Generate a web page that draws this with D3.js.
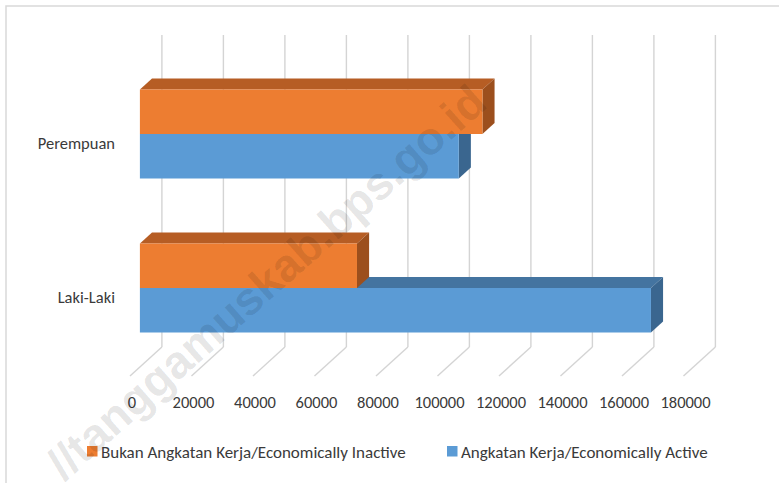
<!DOCTYPE html>
<html>
<head>
<meta charset="utf-8">
<script src="https://cdn.jsdelivr.net/npm/d3@7"></script>
<style>
  body { margin: 0; background: #fff; }
  text { font-family: Carlito, Calibri, Lato, sans-serif; fill: #3a3a3a; }
</style>
</head>
<body>
<div id="chart"></div>
<script>
// data
const categories = ["Perempuan", "Laki-Laki"];
const seriesNames = ["Bukan Angkatan Kerja/Economically Inactive", "Angkatan Kerja/Economically Active"];
const inactive = [111400, 70600];
const active = [103700, 166200];
const tickValues = [0, 20000, 40000, 60000, 80000, 100000, 120000, 140000, 160000, 180000];

const colors = {
    inactive: { front: "#ED7D31", top: "#B65D24", side: "#9C4F1D" },
    active: { front: "#5B9BD5", top: "#4474A0", side: "#3A668F" },
};

const width = 779, height = 483;

const svg = d3.select("#chart").append("svg")
    .attr("width", width)
    .attr("height", height);

// outer chart border (only left/top visible in the crop)
svg.append("rect")
    .attr("x", 6).attr("y", 6)
    .attr("width", 820).attr("height", 520)
    .attr("fill", "none")
    .attr("stroke", "#d9d9d9")
    .attr("stroke-width", 1.5);

// oblique 3d: z goes back, up-right
const originX = 130;
const slant = 1.1;
const x = d3.scaleLinear().domain([0, 180000]).range([0, 553.5]);
const yCat = d3.scalePoint().domain(categories).range([143, 297]);
const ySeries = d3.scaleBand().domain(["inactive", "active"]).range([-44.5, 44.5]);

const floorY = 376, wallTop = 64;
const zWall = 29, zFront = 9, zBack = 20;

const proj = (v, y, z) => [originX + x(v) + z * slant, y - z];
const poly = (pts) => "M" + pts.map((p) => p.join(",")).join("L") + "Z";

const grid = svg.append("g");
// back wall gridlines
grid.selectAll(".wall")
    .data(tickValues)
    .enter().append("line")
    .attr("x1", (d) => proj(d, wallTop, zWall)[0])
    .attr("y1", (d) => proj(d, wallTop, zWall)[1])
    .attr("x2", (d) => proj(d, floorY, zWall)[0])
    .attr("y2", (d) => proj(d, floorY, zWall)[1])
    .attr("stroke", "#d4d4d4")
    .attr("stroke-width", 1.4);
// floor lines
grid.selectAll(".floor")
    .data(tickValues)
    .enter().append("line")
    .attr("x1", (d) => proj(d, floorY, zWall)[0])
    .attr("y1", (d) => proj(d, floorY, zWall)[1])
    .attr("x2", (d) => proj(d, floorY, 0)[0])
    .attr("y2", (d) => proj(d, floorY, 0)[1])
    .attr("stroke", "#d4d4d4")
    .attr("stroke-width", 1.4);

// tick labels
svg.append("g").selectAll("text")
    .data(tickValues)
    .enter().append("text")
    .attr("x", (d) => proj(d, floorY, 0)[0] + 2)
    .attr("y", 408)
    .attr("text-anchor", "middle")
    .style("font-size", "16.5px")
    .text((d) => d);

// category labels
svg.append("g").selectAll("text")
    .data(categories)
    .enter().append("text")
    .attr("x", 115)
    .attr("y", (d) => yCat(d) + 6)
    .attr("text-anchor", "end")
    .style("font-size", "16.5px")
    .text((d) => d);

// bars: draw lower (active) first so the upper bar covers its top face
const bars = [];
categories.forEach((c, i) => {
    bars.push({ cat: c, key: "active", value: active[i] });
    bars.push({ cat: c, key: "inactive", value: inactive[i] });
});

const barG = svg.append("g");
bars.forEach((b) => {
    const y0 = yCat(b.cat) + ySeries(b.key);
    const y1 = y0 + ySeries.bandwidth();
    const col = colors[b.key];
    const g = barG.append("g");
    // top face
    g.append("path")
        .attr("d", poly([proj(0, y0, zFront), proj(b.value, y0, zFront), proj(b.value, y0, zBack), proj(0, y0, zBack)]))
        .attr("fill", col.top);
    // right side
    g.append("path")
        .attr("d", poly([proj(b.value, y0, zFront), proj(b.value, y0, zBack), proj(b.value, y1, zBack), proj(b.value, y1, zFront)]))
        .attr("fill", col.side);
    // front face
    g.append("path")
        .attr("d", poly([proj(0, y0, zFront), proj(b.value, y0, zFront), proj(b.value, y1, zFront), proj(0, y1, zFront)]))
        .attr("fill", col.front);
});

// legend
const legendX = [87, 447];
const legend = svg.append("g");
["inactive", "active"].forEach((k, i) => {
    legend.append("rect")
        .attr("x", legendX[i]).attr("y", 446)
        .attr("width", 10.5).attr("height", 10.5)
        .attr("fill", colors[k].front);
    legend.append("text")
        .attr("x", legendX[i] + 14)
        .attr("y", 457.5)
        .style("font-size", "17px")
        .text(seriesNames[i]);
});

// watermark
svg.append("text")
    .attr("transform", "translate(266,282) rotate(-41.5)")
    .attr("text-anchor", "middle")
    .attr("dy", "0.35em")
    .style("font-family", "'Liberation Sans', Arial, sans-serif")
    .style("font-weight", "bold")
    .style("font-size", "46px")
    .style("fill", "#000")
    .style("fill-opacity", 0.11)
    .text("//tanggamuskab.bps.go.id");
</script>
</body>
</html>
